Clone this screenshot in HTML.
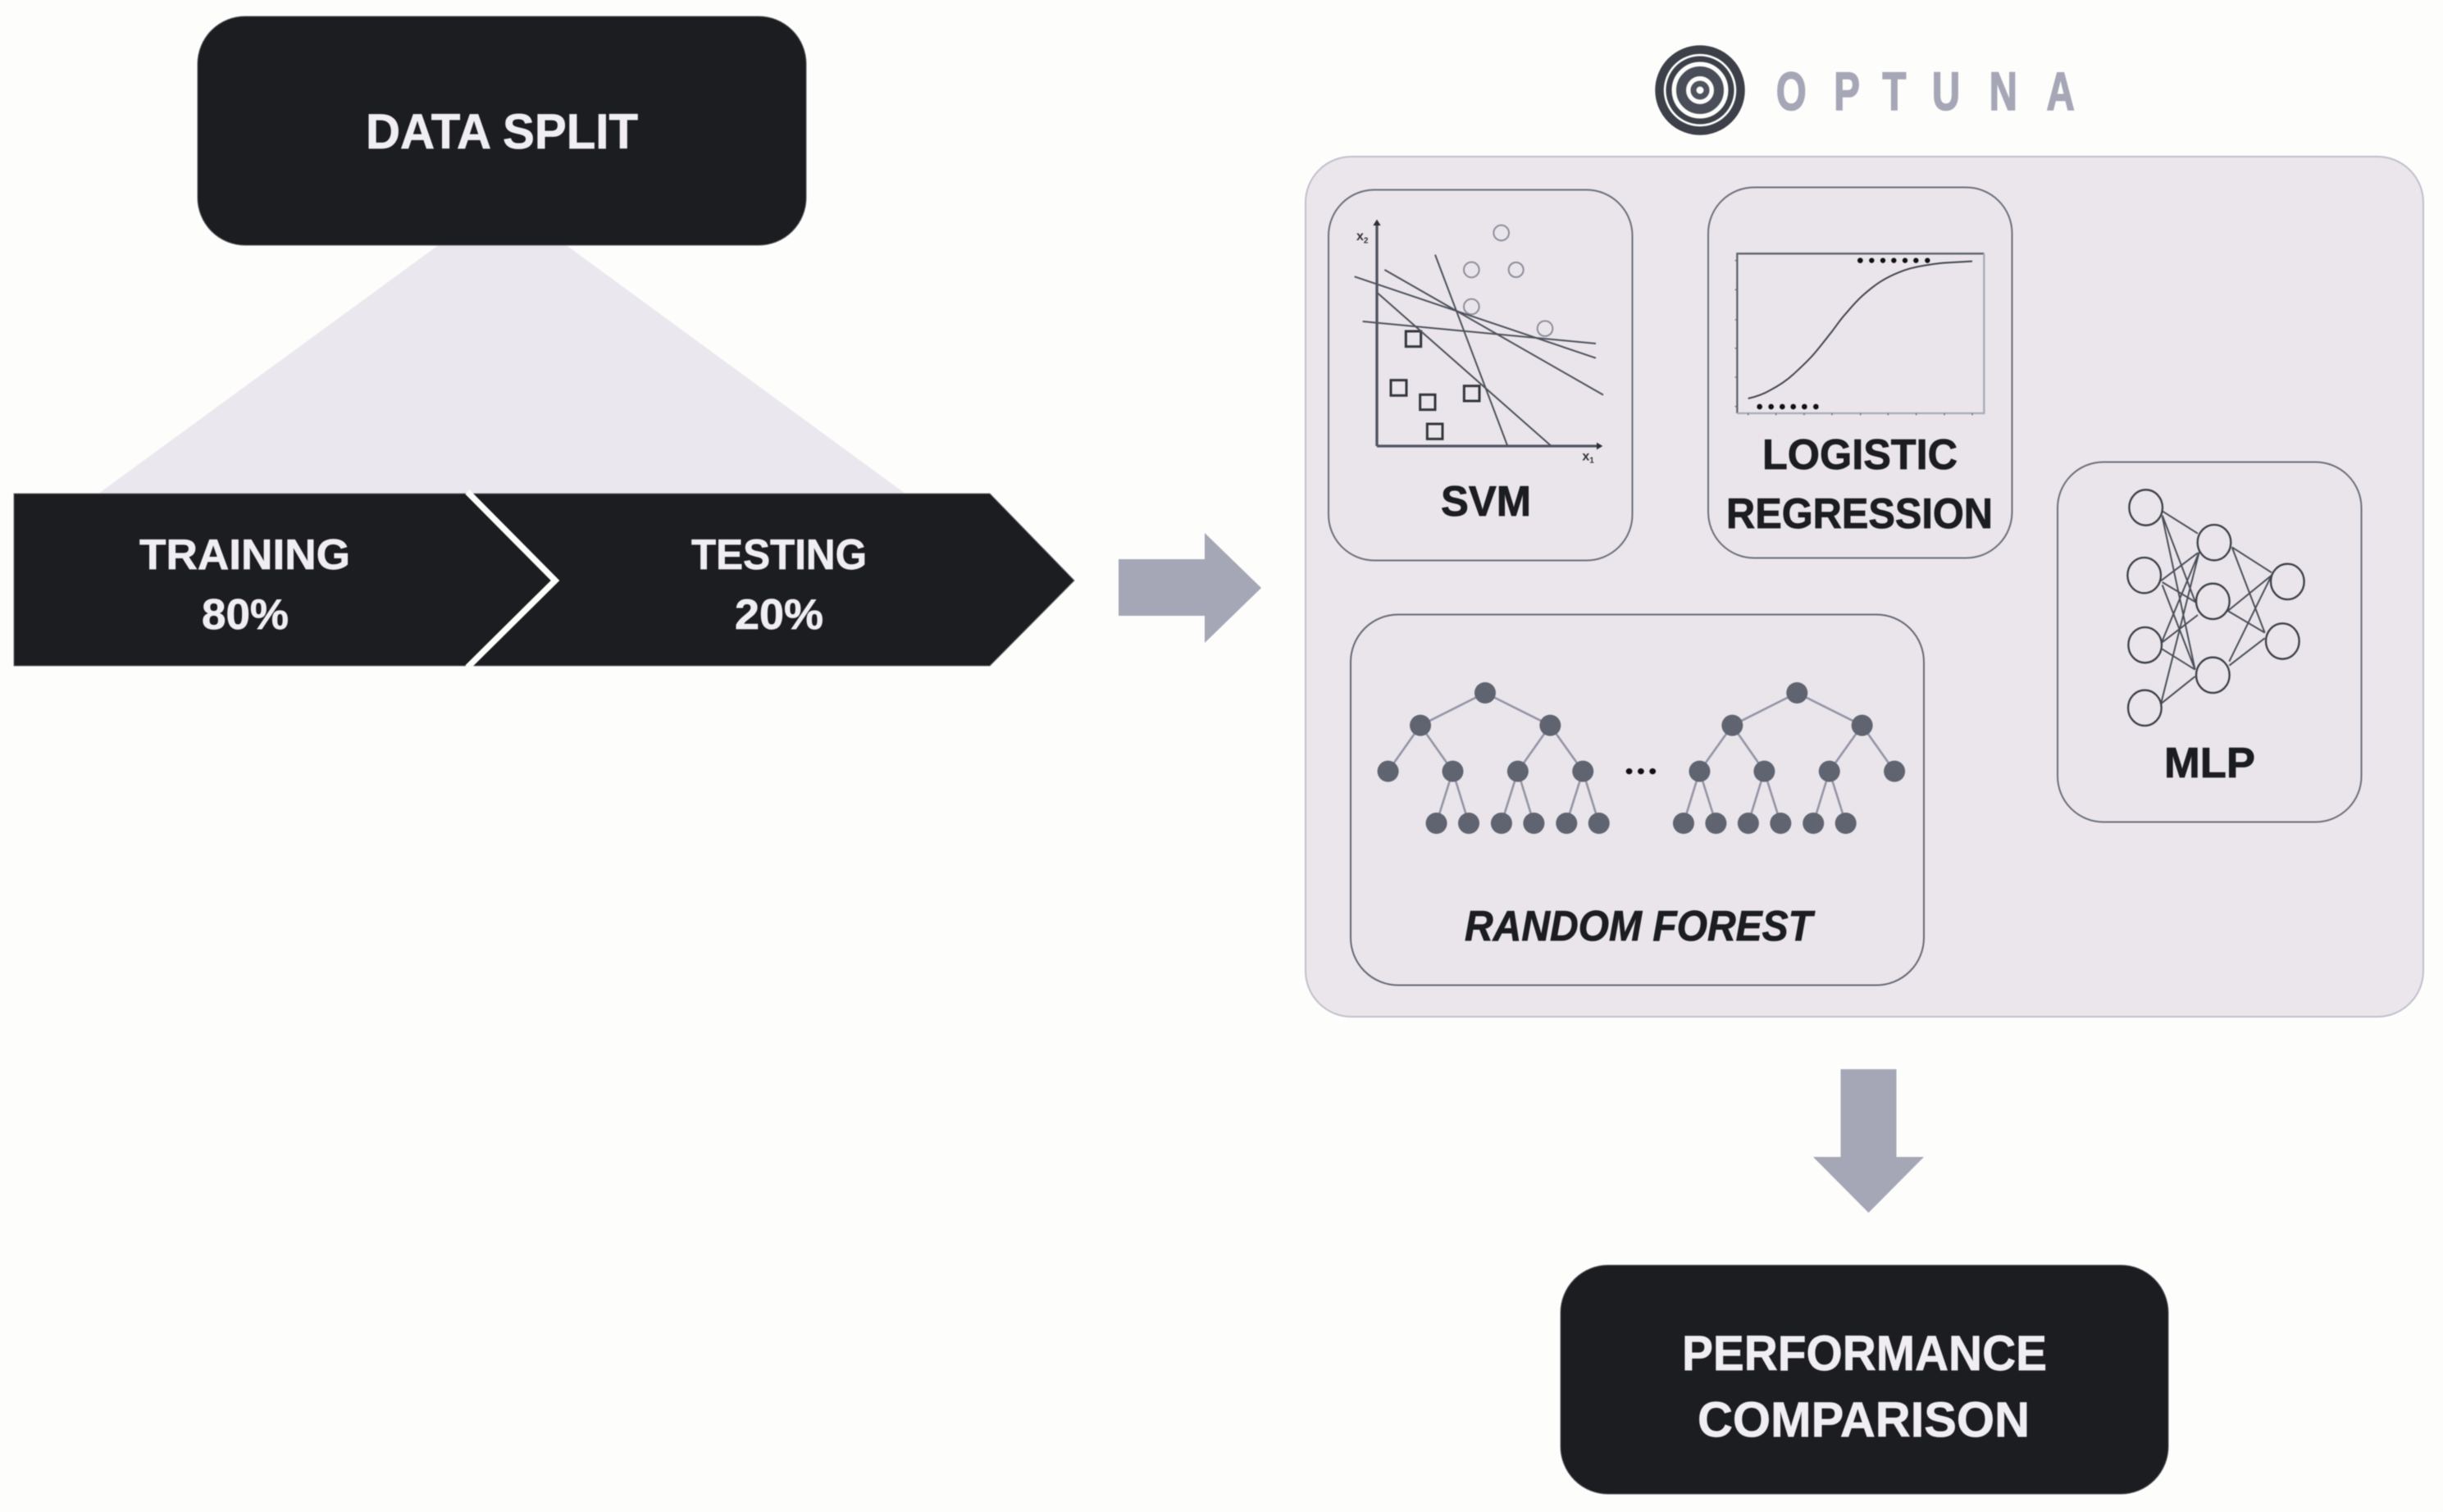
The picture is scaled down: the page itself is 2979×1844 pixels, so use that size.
<!DOCTYPE html>
<html>
<head>
<meta charset="utf-8">
<style>
html,body{margin:0;padding:0;background:#fdfdfc;width:2979px;height:1844px;overflow:hidden}
svg{display:block;filter:blur(.6px)}
text{font-family:"Liberation Sans",sans-serif;font-weight:700}
.w{fill:#f0eef3;stroke:#f0eef3;stroke-width:.7px}
.d{fill:#1c1d20;stroke:#1c1d20;stroke-width:.8px}
</style>
</head>
<body>
<svg xmlns="http://www.w3.org/2000/svg" width="2979" height="1844" viewBox="0 0 2979 1844">
<rect width="2979" height="1844" fill="#fdfdfc"/>

<!-- left -->
<polygon points="536,298 689,298 1104,602 120,602" fill="#ebe7ee"/>
<rect x="241" y="20" width="742" height="279" rx="58" ry="58" fill="#1c1d20" stroke="#55565e" stroke-width="1"/>
<text class="w" x="446" y="181" font-size="60" textLength="332" lengthAdjust="spacingAndGlyphs">DATA SPLIT</text>

<polygon points="17,602 1207,602 1310,708 1207,812 17,812" fill="#1c1d20" stroke="#6a6b74" stroke-width="1"/>
<polyline points="570,600 677,708 570,814" fill="none" stroke="#fdfdfc" stroke-width="7.5"/>
<text class="w" x="170" y="694" font-size="52" textLength="257" lengthAdjust="spacingAndGlyphs">TRAINING</text>
<text class="w" x="246" y="767" font-size="52" textLength="106" lengthAdjust="spacingAndGlyphs">80%</text>
<text class="w" x="843" y="694" font-size="52" textLength="214" lengthAdjust="spacingAndGlyphs">TESTING</text>
<text class="w" x="896" y="767" font-size="52" textLength="108" lengthAdjust="spacingAndGlyphs">20%</text>

<polygon points="1364,682 1469,682 1469,650 1538,717 1469,784 1469,751 1364,751" fill="#a5a6b6"/>

<!-- optuna logo -->
<g fill="none" stroke="#3d4048">
<circle cx="2073" cy="110" r="49.5" stroke-width="10.5"/>
<circle cx="2073" cy="110" r="38" stroke-width="7"/>
<circle cx="2073" cy="110" r="23" stroke-width="12" stroke="#4a4e58"/>
<circle cx="2073" cy="110" r="8" stroke-width="7" stroke="#4f535d"/>
</g>
<text transform="scale(.72,1)" x="3008 3106 3188 3272 3369 3466" y="134" font-size="66" fill="#a5a6b6" stroke="#a5a6b6" stroke-width="1.6">OPTUNA</text>

<!-- panel -->
<rect x="1592" y="191" width="1363" height="1049" rx="56" ry="56" fill="#eae6ec" stroke="#c1c0cc" stroke-width="2"/>

<!-- SVM -->
<rect x="1620" y="231.5" width="370.5" height="452" rx="56" ry="56" fill="#e9e5eb" stroke="#6c6f7b" stroke-width="2"/>
<g transform="translate(1620,220) scale(.33333)">
<g fill="none" stroke="#8d8e9b" stroke-width="6">
<circle cx="632" cy="192" r="28"/><circle cx="523" cy="327" r="28"/><circle cx="686" cy="327" r="27"/><circle cx="523" cy="462" r="28"/><circle cx="792" cy="542" r="28"/>
</g>
<g fill="none" stroke="#33363d" stroke-width="9">
<rect x="283" y="552" width="55" height="56"/><rect x="228" y="731" width="57" height="56"/><rect x="335" y="784" width="55" height="55"/><rect x="496" y="752" width="56" height="55"/><rect x="361" y="891" width="56" height="55"/>
</g>
<g fill="none" stroke="#4e525c" stroke-width="6">
<line x1="390" y1="272" x2="655" y2="972"/>
<line x1="205" y1="327" x2="1005" y2="785"/>
<line x1="95" y1="352" x2="978" y2="650"/>
<line x1="125" y1="516" x2="978" y2="597"/>
<line x1="177" y1="410" x2="815" y2="972"/>
</g>
<path d="M177 972V160M177 972H985" fill="none" stroke="#50545f" stroke-width="10"/>
<polygon points="177,143 163,165 191,165" fill="#2e3036"/>
<polygon points="1003,972 981,959 981,985" fill="#2e3036"/>
<text x="102" y="219" font-size="48" fill="#33353c">x<tspan font-size="30" dy="10">2</tspan></text>
<text x="928" y="1024" font-size="48" fill="#33353c">x<tspan font-size="30" dy="10">1</tspan></text>
</g>
<text class="d" x="1757" y="629" font-size="52" textLength="110" lengthAdjust="spacingAndGlyphs">SVM</text>

<!-- Logistic -->
<rect x="2083" y="228.5" width="370.5" height="452" rx="56" ry="56" fill="#e9e5eb" stroke="#6c6f7b" stroke-width="2"/>
<g transform="translate(2090,230) scale(.33333)">
<path d="M85 822V238H988" fill="none" stroke="#5f636f" stroke-width="7"/>
<path d="M988 238V822H85" fill="none" stroke="#a9aab8" stroke-width="7"/>
<path d="M125 768C160 760 185 750 205 738C240 720 265 703 290 680C320 652 345 630 370 600C395 570 410 550 430 525C448 502 460 482 480 460C500 437 518 415 540 395C565 372 585 356 610 340C632 326 655 315 680 305C710 293 735 287 760 283C790 278 815 274 840 272C875 270 910 268 945 266" fill="none" stroke="#44474f" stroke-width="6"/>
<g fill="#111"><circle cx="535" cy="263" r="10"/><circle cx="577" cy="263" r="9.5"/><circle cx="618" cy="263" r="9.5"/><circle cx="658" cy="263" r="9.5"/><circle cx="699" cy="263" r="9.5"/><circle cx="739" cy="263" r="9.5"/><circle cx="781" cy="263" r="9.5"/>
<circle cx="167" cy="798" r="10"/><circle cx="209" cy="798" r="10"/><circle cx="250" cy="798" r="10"/><circle cx="290" cy="798" r="10"/><circle cx="331" cy="798" r="10"/><circle cx="373" cy="798" r="10"/></g>
<path d="M125 822v7M227 822v7M330 822v7M432 822v7M536 822v7M637 822v7M740 822v7M843 822v7M945 822v7M77 263h8M77 370h8M77 480h8M77 584h8M77 690h8M77 797h8" stroke="#666a76" stroke-width="4" fill="none"/>
</g>
<text class="d" x="2149" y="572" font-size="52" textLength="238" lengthAdjust="spacingAndGlyphs">LOGISTIC</text>
<text class="d" x="2105" y="644" font-size="52" textLength="325" lengthAdjust="spacingAndGlyphs">REGRESSION</text>

<!-- MLP -->
<rect x="2509" y="563.5" width="370.5" height="439" rx="56" ry="56" fill="#e9e5eb" stroke="#6c6f7b" stroke-width="2"/>
<g transform="translate(2540,580) scale(.33333)">
<g stroke="#4c505a" stroke-width="6" fill="none">
<path d="M290 130L420 212M290 145L410 460M290 150L410 710M285 385L420 283M290 390L415 465M290 400L410 710M290 605L425 280M290 610L420 510M290 635L410 710M285 835L425 280M285 835L410 735M545 262L690 355M545 262L665 575M530 495L690 365M530 495L665 575M535 680L690 365M535 695L665 595"/>
</g>
<g stroke="#3d4048" stroke-width="7" fill="none">
<ellipse cx="230" cy="117" rx="61" ry="65"/><ellipse cx="224" cy="365" rx="61" ry="65"/><ellipse cx="227" cy="620" rx="61" ry="65"/><ellipse cx="226" cy="850" rx="61" ry="65"/>
<ellipse cx="480" cy="245" rx="61" ry="65"/><ellipse cx="475" cy="460" rx="61" ry="65"/><ellipse cx="475" cy="730" rx="61" ry="65"/>
<ellipse cx="748" cy="388" rx="61" ry="65"/><ellipse cx="730" cy="606" rx="61" ry="65"/>
</g>
</g>
<text class="d" x="2639" y="948" font-size="52" textLength="111" lengthAdjust="spacingAndGlyphs">MLP</text>

<!-- Random forest -->
<rect x="1647" y="749.5" width="699" height="452" rx="58" ry="58" fill="#e9e5eb" stroke="#666975" stroke-width="2"/>
<g transform="translate(1680,820) scale(.43365,.33333)">
<path d="M302 75L120 194M302 75L485 194M120 194L29 362M120 194L211 362M485 194L394 362M485 194L577 362M211 362L165 552M211 362L256 552M394 362L348 552M394 362L439 552M577 362L531 552M577 362L622 552
M1179 75L997 194M1179 75L1362 194M997 194L905 362M997 194L1087 362M1362 194L1270 362M1362 194L1453 362M905 362L860 552M905 362L951 552M1087 362L1042 552M1087 362L1133 552M1270 362L1225 552M1270 362L1316 552" fill="none" stroke="#9495a5" stroke-width="2.6" vector-effect="non-scaling-stroke"/>
<g fill="#5f6470">
<ellipse cx="302" cy="75" rx="30" ry="39"/><ellipse cx="120" cy="194" rx="30" ry="39"/><ellipse cx="485" cy="194" rx="30" ry="39"/>
<ellipse cx="29" cy="362" rx="30" ry="39"/><ellipse cx="211" cy="362" rx="30" ry="39"/><ellipse cx="394" cy="362" rx="30" ry="39"/><ellipse cx="577" cy="362" rx="30" ry="39"/>
<ellipse cx="165" cy="552" rx="30" ry="39"/><ellipse cx="256" cy="552" rx="30" ry="39"/><ellipse cx="348" cy="552" rx="30" ry="39"/><ellipse cx="439" cy="552" rx="30" ry="39"/><ellipse cx="531" cy="552" rx="30" ry="39"/><ellipse cx="622" cy="552" rx="30" ry="39"/>
<ellipse cx="1179" cy="75" rx="30" ry="39"/><ellipse cx="997" cy="194" rx="30" ry="39"/><ellipse cx="1362" cy="194" rx="30" ry="39"/>
<ellipse cx="905" cy="362" rx="30" ry="39"/><ellipse cx="1087" cy="362" rx="30" ry="39"/><ellipse cx="1270" cy="362" rx="30" ry="39"/><ellipse cx="1453" cy="362" rx="30" ry="39"/>
<ellipse cx="860" cy="552" rx="30" ry="39"/><ellipse cx="951" cy="552" rx="30" ry="39"/><ellipse cx="1042" cy="552" rx="30" ry="39"/><ellipse cx="1133" cy="552" rx="30" ry="39"/><ellipse cx="1225" cy="552" rx="30" ry="39"/><ellipse cx="1316" cy="552" rx="30" ry="39"/>
</g>
<g fill="#111"><ellipse cx="707" cy="362" rx="9" ry="11"/><ellipse cx="740" cy="362" rx="9" ry="11"/><ellipse cx="773" cy="362" rx="9" ry="11"/></g>
</g>
<text class="d" x="1786" y="1147" font-size="52" font-style="italic" textLength="424" lengthAdjust="spacingAndGlyphs">RANDOM FOREST</text>

<!-- bottom -->
<polygon points="2244.5,1304 2312.5,1304 2312.5,1411 2346,1411 2278.5,1479 2211,1411 2244.5,1411" fill="#a5a6b6"/>
<rect x="1903" y="1543" width="741" height="279" rx="58" ry="58" fill="#1c1d20" stroke="#55565e" stroke-width="1"/>
<text class="w" x="2051" y="1671" font-size="60" textLength="445" lengthAdjust="spacingAndGlyphs">PERFORMANCE</text>
<text class="w" x="2070" y="1752" font-size="60" textLength="405" lengthAdjust="spacingAndGlyphs">COMPARISON</text>
</svg>
</body>
</html>
